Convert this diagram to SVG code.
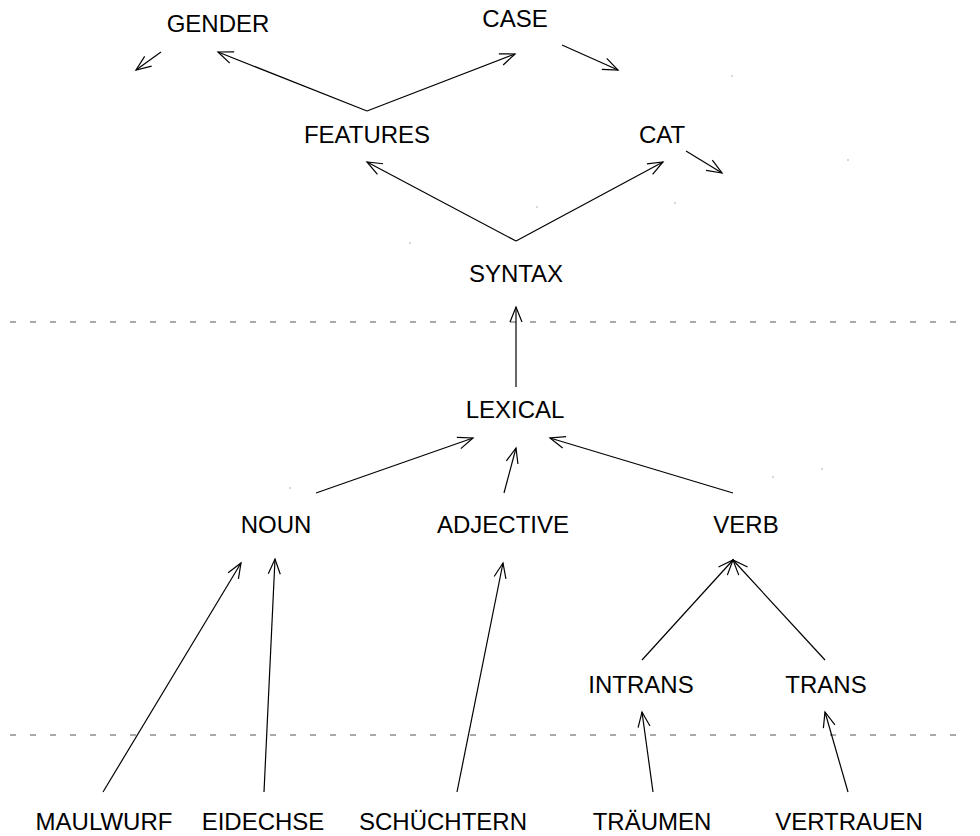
<svg xmlns="http://www.w3.org/2000/svg" width="980" height="836" viewBox="0 0 980 836">
<style>
text{font-family:"Liberation Sans",Arial,sans-serif;font-size:24px;fill:#000;text-anchor:middle}
.c line{stroke:#000;stroke-width:1.2;fill:none;marker-end:url(#ah)}
.sep{stroke:#555;stroke-width:1.2;stroke-dasharray:6 14}
.dot{fill:#666}
</style>
<defs>
<marker id="ah" markerUnits="userSpaceOnUse" markerWidth="20" markerHeight="14" refX="0" refY="0" viewBox="-16 -7 18 14" orient="auto" overflow="visible">
<path d="M-15,-6 L0,0 L-15,6" fill="none" stroke="#000" stroke-width="1.2"/>
</marker>
</defs>
<rect width="980" height="836" fill="#fff"/>
<g id="separators">
<line class="sep" x1="10" y1="322" x2="970" y2="322"/>
<line class="sep" x1="10" y1="735" x2="970" y2="735"/>
</g>
<g id="connectors" class="c">
<line x1="161" y1="52" x2="136" y2="70"/>
<line x1="367" y1="111" x2="218" y2="52"/>
<line x1="367" y1="111" x2="515" y2="54"/>
<line x1="562" y1="45" x2="618" y2="70"/>
<line x1="516" y1="241" x2="367" y2="162"/>
<line x1="516" y1="241" x2="663" y2="162"/>
<line x1="686" y1="151" x2="722" y2="173"/>
<line x1="516" y1="387" x2="516" y2="307"/>
<line x1="316" y1="493" x2="473" y2="438"/>
<line x1="504" y1="493" x2="516" y2="448"/>
<line x1="733" y1="493" x2="550" y2="438"/>
<line x1="642" y1="660" x2="733" y2="560"/>
<line x1="825" y1="660" x2="733" y2="560"/>
<line x1="103" y1="792" x2="241" y2="563"/>
<line x1="264" y1="792" x2="275" y2="559"/>
<line x1="457" y1="792" x2="503" y2="563"/>
<line x1="653" y1="792" x2="642" y2="712"/>
<line x1="848" y1="792" x2="825" y2="712"/>
</g>
<g id="specks">
<rect class="dot" x="731.5" y="75.5" width="1" height="1"/>
<rect class="dot" x="847.5" y="159.5" width="1" height="1"/>
<rect class="dot" x="536.5" y="206.5" width="1" height="1"/>
<rect class="dot" x="674.5" y="202.5" width="1" height="1"/>
<rect class="dot" x="409.5" y="242.5" width="1" height="1"/>
<rect class="dot" x="289.5" y="487.5" width="1" height="1"/>
<rect class="dot" x="772.5" y="476.5" width="1" height="1"/>
<rect class="dot" x="821.5" y="468.5" width="1" height="1"/>
</g>
<g id="GENDER"><text x="218" y="32">GENDER</text></g>
<g id="CASE"><text x="515" y="27">CASE</text></g>
<g id="FEATURES"><text x="367" y="143">FEATURES</text></g>
<g id="CAT"><text x="662" y="143">CAT</text></g>
<g id="SYNTAX"><text x="516" y="282">SYNTAX</text></g>
<g id="LEXICAL"><text x="515" y="418">LEXICAL</text></g>
<g id="NOUN"><text x="276" y="533">NOUN</text></g>
<g id="ADJECTIVE"><text x="503" y="533">ADJECTIVE</text></g>
<g id="VERB"><text x="746" y="533">VERB</text></g>
<g id="INTRANS"><text x="641" y="693">INTRANS</text></g>
<g id="TRANS"><text x="826" y="693">TRANS</text></g>
<g id="MAULWURF"><text x="104" y="830">MAULWURF</text></g>
<g id="EIDECHSE"><text x="263" y="830">EIDECHSE</text></g>
<g id="SCHUECHTERN"><text x="443" y="830">SCHÜCHTERN</text></g>
<g id="TRAEUMEN"><text x="652" y="830">TRÄUMEN</text></g>
<g id="VERTRAUEN"><text x="849" y="830">VERTRAUEN</text></g>
</svg>
